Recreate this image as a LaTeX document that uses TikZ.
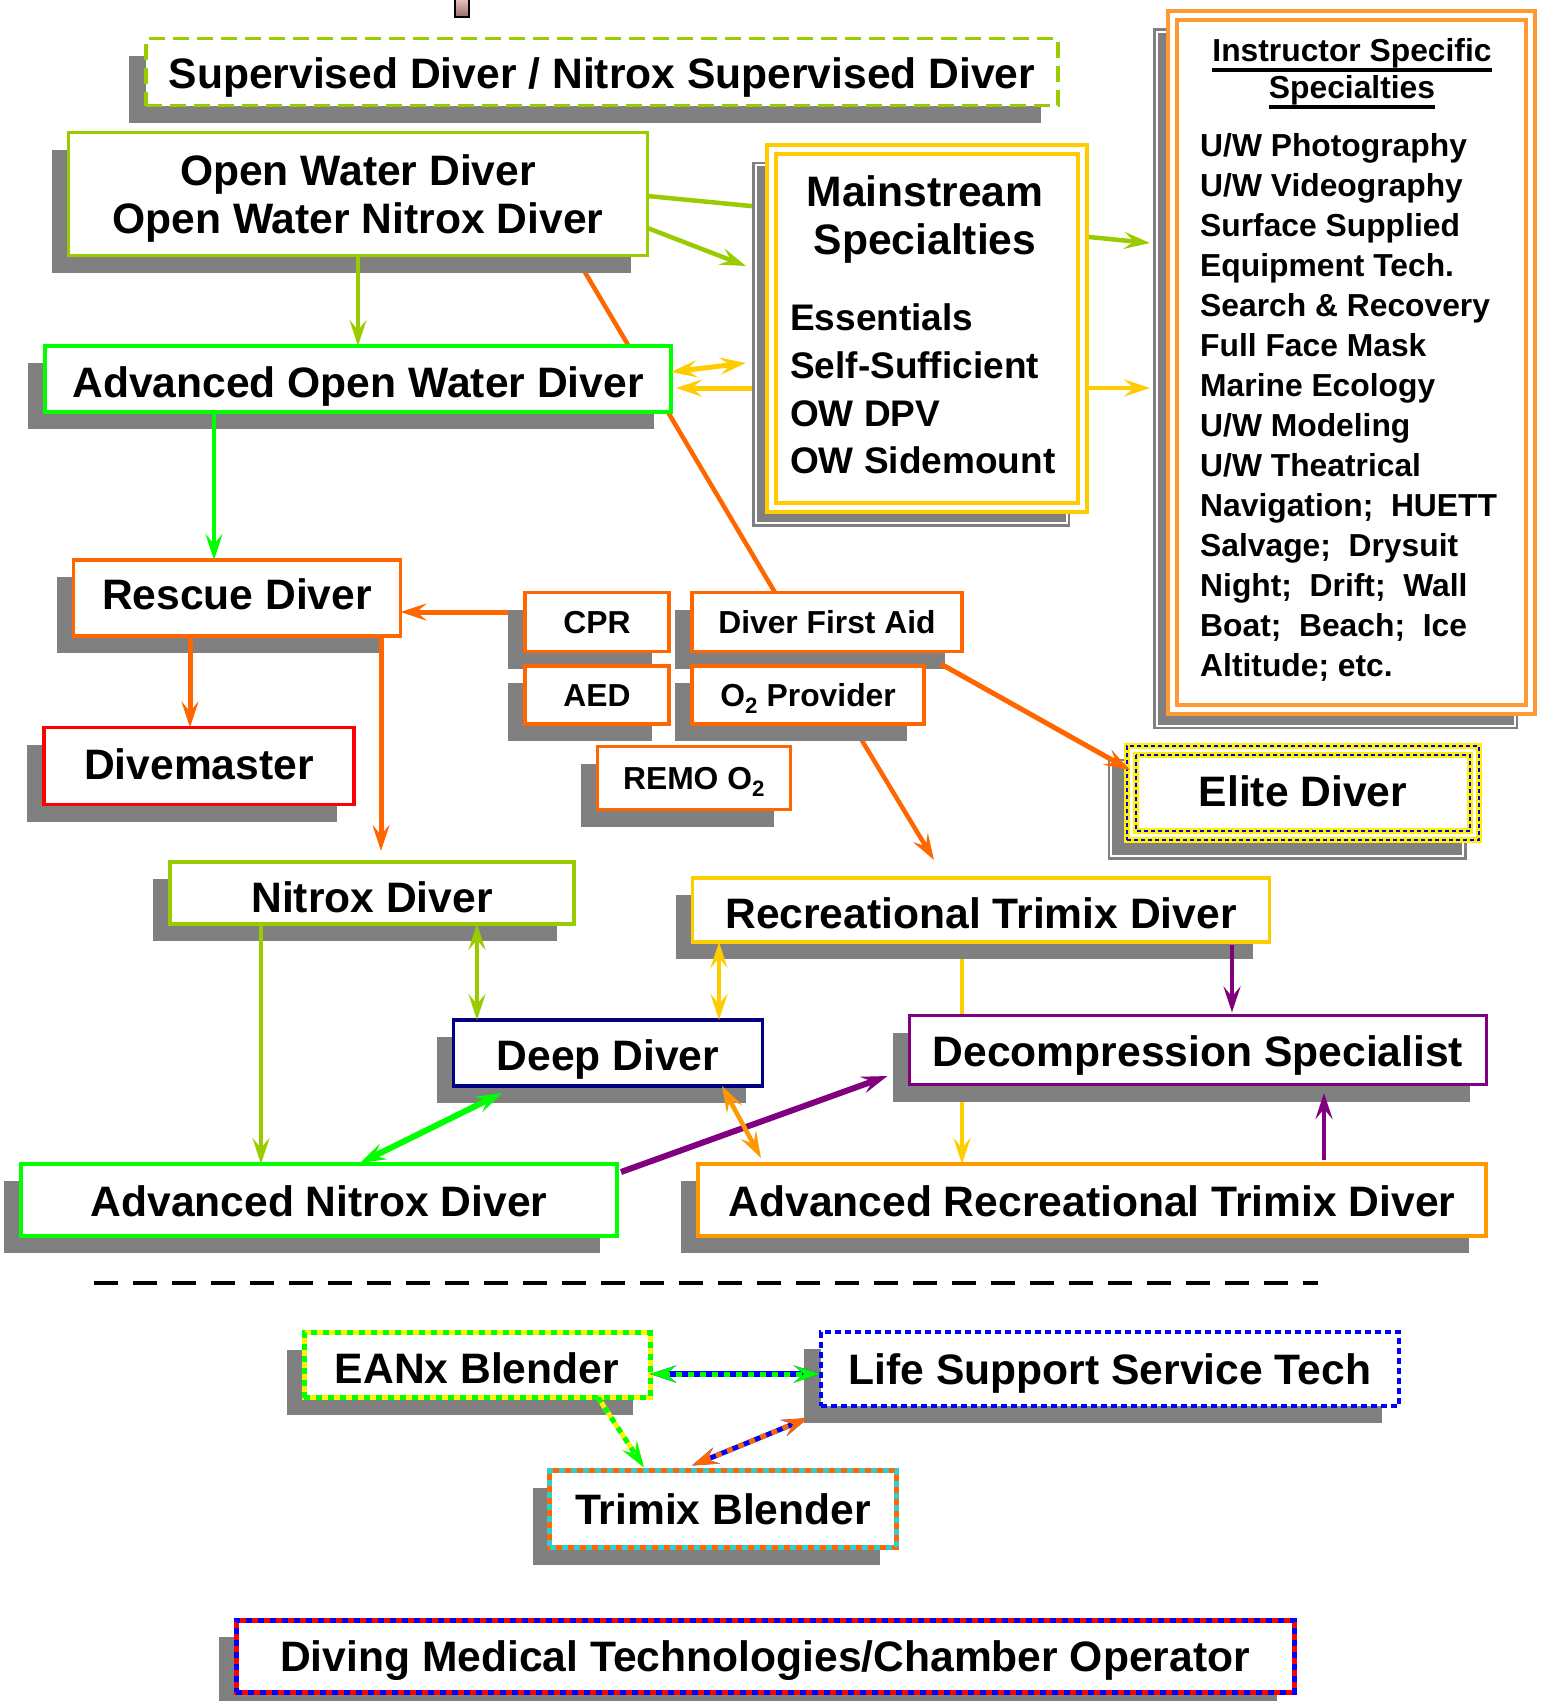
\documentclass[tikz,border=0pt]{standalone}
\usepackage{fontspec}
\setmainfont{Liberation Sans}
\usetikzlibrary{arrows.meta,shadows,backgrounds}

\definecolor{ygreen}{HTML}{99CC00}
\definecolor{lgreen}{HTML}{00FF00}
\definecolor{gold}{HTML}{FFCC00}
\definecolor{lorange}{HTML}{FF9933}
\definecolor{dorange}{HTML}{FF6600}
\definecolor{aorange}{HTML}{FF9900}
\definecolor{deepblue}{HTML}{000080}
\definecolor{decpurple}{HTML}{800080}
\definecolor{cyanish}{HTML}{33CCCC}
\definecolor{shade}{HTML}{808080}

\newcommand{\bigtxt}{\bfseries\fontsize{42.6}{48}\selectfont}
\newcommand{\midtxt}{\bfseries\fontsize{37}{47.7}\selectfont}
\newcommand{\smalltxt}{\bfseries\fontsize{31.8}{40}\selectfont}
\newcommand{\hdline}[1]{\vtop{\hbox{#1}\kern0.5pt\hrule height 3.5pt}}

\tikzset{
  >={Stealth[length=26pt,width=17pt,inset=10pt]},
  box/.style={rectangle, fill=white, line width=3.5pt, inner sep=0pt, outer sep=0pt,
    font=\bigtxt, text height=30pt, text depth=0pt,
    drop shadow={shadow xshift=-17pt, shadow yshift=-17pt, opacity=1, fill=shade}},
  smallbox/.style={box, draw=dorange, font=\smalltxt, text height=23pt},
  dshadow/.style={general shadow={shadow xshift=-16pt, shadow yshift=-16pt, fill=shade,
    draw=shade, solid, line width=2.5pt, double=white, double distance=2pt}},
  dframe/.style={rectangle, fill=white, inner sep=0pt, outer sep=0pt, line width=4pt,
    double=white, double distance=5pt, dshadow},
  eframe/.style={draw=yellow, line width=6pt,
    postaction={draw=blue, line width=2pt, dash pattern=on 4pt off 3pt}},
  stripes/.style 2 args={draw=#1, line width=5pt,
    postaction={draw=#2, line width=5pt, dash pattern=on 6pt off 6pt}},
}

\begin{document}
\begin{tikzpicture}[x=1pt,y=-1pt]
\useasboundingbox (0,0) rectangle (1548,1701);

% leftover marker at the top
\draw[black, line width=1.5pt, top color={rgb,255:red,242;green,204;blue,196}, bottom color={rgb,255:red,150;green,110;blue,105}] (455,-3) rectangle (469,17);

\node[box, draw=ygreen, dash pattern=on 16pt off 8pt, text height=32pt, minimum width=912pt, minimum height=67pt] (super) at (602,72) {Supervised Diver / Nitrox Supervised Diver};
\node[box, draw=ygreen, align=center, text height={}, text depth={}, minimum width=579pt, minimum height=123pt] (ow) at (358,194) {\rule{0pt}{39pt}Open Water Diver\\Open Water Nitrox Diver};
\node[box, draw=lgreen, text height=36.5pt, minimum width=626pt, minimum height=66pt] (aow) at (358,379) {Advanced Open Water Diver};

% specialty boxes
\node[dframe, draw=gold, minimum width=311pt, minimum height=358pt] (main) at (927,328) {};
\node[font=\bigtxt, align=center, inner sep=0pt] (mainhd) at (925,219.5) {Mainstream\\Specialties};
\node[font=\midtxt, align=left, anchor=west, inner sep=0pt] (mainls) at (790,389) {Essentials\\Self-Sufficient\\OW DPV\\OW Sidemount};

\node[dframe, draw=lorange, minimum width=358pt, minimum height=694pt] (instr) at (1351.5,362.5) {};
\node[font=\bfseries\fontsize{31.8}{37}\selectfont, align=center, anchor=north, inner sep=0pt] (instrhd) at (1352,38) {\hdline{Instructor Specific}\\\hdline{Specialties}};
\node[font=\smalltxt, align=left, anchor=north west, inner sep=0pt] (instrls) at (1200,133) {U/W Photography\\U/W Videography\\Surface Supplied\\Equipment Tech.\\Search \& Recovery\\Full Face Mask\\Marine Ecology\\U/W Modeling\\U/W Theatrical\\Navigation;\ \ HUETT\\Salvage;\ \ Drysuit\\Night;\ \ Drift;\ \ Wall\\Boat;\ \ Beach;\ \ Ice\\Altitude; etc.};

% rescue branch
\node[box, draw=dorange, text height=23.5pt, minimum width=327pt, minimum height=76pt] (rescue) at (237,598) {Rescue Diver};
\node[smallbox, minimum width=144pt, minimum height=59pt] (cpr) at (597,622) {CPR};
\node[smallbox, minimum width=270pt, minimum height=59pt] (dfa) at (827,622) {Diver First Aid};
\node[smallbox, minimum width=144pt, minimum height=58pt] (aed) at (597,695) {AED};
\node[smallbox, minimum width=232pt, minimum height=58pt] (otwo) at (808,695) {O\textsubscript{2} Provider};
\node[smallbox, minimum width=193pt, minimum height=63pt] (remo) at (694,778) {REMO O\textsubscript{2}};
\node[box, draw=red, text height=26pt, minimum width=310pt, minimum height=77pt] (divem) at (199,766) {Divemaster};

\node[rectangle, fill=white, inner sep=0pt, outer sep=0pt, font=\bigtxt, text height=26pt, text depth=0pt, eframe, dshadow, minimum width=352pt, minimum height=94pt] (elite) at (1303,793) {Elite Diver};
\draw[eframe] ([shift={(9,9)}]elite.north west) rectangle ([shift={(-9,-9)}]elite.south east);

% gas and depth courses
\node[box, draw=ygreen, text height=38.5pt, minimum width=404pt, minimum height=62pt] (nitrox) at (372,893) {Nitrox Diver};
\node[box, draw=gold, text height=36.5pt, minimum width=577pt, minimum height=64pt] (rtd) at (981,910) {Recreational Trimix Diver};
\node[box, draw=deepblue, text height=34pt, minimum width=309pt, minimum height=66pt] (deep) at (608,1053) {Deep Diver};
\node[box, draw=decpurple, text height=32pt, minimum width=577pt, minimum height=69pt] (decomp) at (1198,1050) {Decompression Specialist};
\node[box, draw=lgreen, text height=32pt, minimum width=596pt, minimum height=72pt] (anx) at (319,1200) {Advanced Nitrox Diver};
\node[box, draw=aorange, text height=32pt, minimum width=788pt, minimum height=72pt] (artd) at (1092,1200) {Advanced Recreational Trimix Diver};

\draw[line width=4pt, dash pattern=on 24pt off 15pt] (94,1283) -- (1318,1283);

% technician courses
\node[box, stripes={yellow}{lgreen}, text height=36.5pt, minimum width=346pt, minimum height=65pt] (eanx) at (477,1365) {EANx Blender};
\node[box, draw=blue, dash pattern=on 6pt off 4pt, minimum width=578pt, minimum height=74pt] (lsst) at (1110,1369) {Life Support Service Tech};
\node[box, stripes={dorange}{cyanish}, minimum width=347pt, minimum height=77pt] (trimixb) at (723,1509) {Trimix Blender};
\node[box, stripes={red}{blue}, minimum width=1058pt, minimum height=72pt] (dmt) at (765,1656) {Diving Medical Technologies/Chamber Operator};

% links hidden behind boxes
\begin{scope}[on background layer]
\draw[ygreen, line width=4.5pt] ([shift={(0,2)}]ow.east) -- ([shift={(0,-120)}]main.west);
\draw[dorange, line width=4.5pt] ([shift={(217,0)}]ow.south) -- ([shift={(-52,0)}]dfa.north);
\draw[gold, line width=5pt, ->] ([shift={(0,60)}]main.west) -- ([shift={(5,9)}]aow.east);
\draw[dorange, line width=5pt, ->] ([shift={(0,-10)}]cpr.west) -- ([shift={(0,14)}]rescue.east);
\draw[dorange, line width=4.5pt, ->] ([shift={(44,0)}]otwo.south) -- ([shift={(-47,-18)}]rtd.north);
\draw[gold, line width=3.5pt, ->] ([shift={(-19,0)}]rtd.south) -- ([shift={(-130,0)}]artd.north);
\end{scope}

\draw[ygreen, line width=4.5pt, ->] ([shift={(0,34)}]ow.east) -- ([shift={(-25.5,-62)}]main.west);
\draw[ygreen, line width=3.5pt, ->] (ow.south) -- (aow.north);
\draw[gold, line width=5pt, <->] ([shift={(0,-7)}]aow.east) -- ([shift={(-25.5,35)}]main.west);
\draw[ygreen, line width=4.5pt, ->] ([shift={(6.5,-91)}]main.east) -- ([shift={(-22.5,-119.5)}]instr.west);
\draw[gold, line width=4.5pt, ->] ([shift={(6.5,60)}]main.east) -- ([shift={(-22.5,25.5)}]instr.west);
\draw[lgreen, line width=3.5pt, ->] ([shift={(-144,0)}]aow.south) -- ([shift={(-23,0)}]rescue.north);
\draw[dorange, line width=5pt, ->] ([shift={(-47,0)}]rescue.south) -- ([shift={(-9,0)}]divem.north);
\draw[dorange, line width=5pt, ->] ([shift={(144,0)}]rescue.south) -- ([shift={(9,-11)}]nitrox.north);
\draw[dorange, line width=5pt, ->] ([shift={(114,12.5)}]dfa.south) -- ([shift={(3,-23)}]elite.west);
\draw[ygreen, line width=3.5pt, <->] ([shift={(105,0)}]nitrox.south) -- ([shift={(-131,0)}]deep.north);
\draw[ygreen, line width=3.5pt, ->] ([shift={(-111,0)}]nitrox.south) -- ([shift={(-58,0)}]anx.north);
\draw[gold, line width=3.5pt, <->] ([shift={(-262,0)}]rtd.south) -- ([shift={(111,0)}]deep.north);
\draw[decpurple, line width=4.5pt, ->] ([shift={(251,3)}]rtd.south) -- ([shift={(34,-3)}]decomp.north);
\draw[decpurple, line width=4.5pt, ->] ([shift={(232,-4)}]artd.north) -- ([shift={(126,8.5)}]decomp.south);
\draw[lgreen, line width=6pt, <->] ([shift={(41,-1)}]anx.north) -- ([shift={(-106,7)}]deep.south);
\draw[decpurple, line width=6pt, ->] ([shift={(4,-28)}]anx.east) -- ([shift={(-22,26)}]decomp.west);
\draw[aorange, line width=4.5pt, <->] ([shift={(114,0)}]deep.south) -- ([shift={(-331,-6)}]artd.north);
\draw[stripes={blue}{lgreen}, line width=6pt, <->] ([shift={(0,9)}]eanx.east) -- ([shift={(-1,5)}]lsst.west);
\draw[stripes={yellow}{lgreen}, ->] ([shift={(121,0)}]eanx.south) -- ([shift={(-79,-3)}]trimixb.north);
\draw[stripes={blue}{dorange}, <->] ([shift={(-31,-5)}]trimixb.north) -- ([shift={(-302,12)}]lsst.south);

\end{tikzpicture}
\end{document}
